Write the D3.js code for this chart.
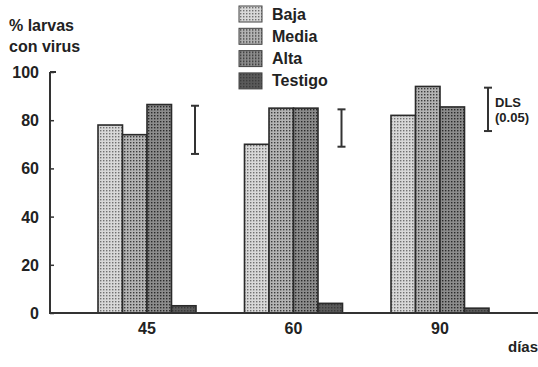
<!DOCTYPE html>
<html>
<head>
<meta charset="utf-8">
<script src="https://cdn.jsdelivr.net/npm/d3@7"></script>
<style>
  body { margin: 0; background: #fff; }
  text { font-family: "Liberation Sans", Arial, sans-serif; font-weight: bold; fill: #222; }
</style>
</head>
<body>
<svg id="chart" width="538" height="367"></svg>
<script>
'use strict';

const days = ["45", "60", "90"];
const series = ["Baja", "Media", "Alta", "Testigo"];
const baja = [78, 70, 82];
const media = [74, 85, 94];
const alta = [86.5, 85, 85.5];
const testigo = [3, 4, 2];
const dlsLow = [66, 69, 75.5];
const dlsHigh = [86, 84.5, 93.5];
const yTicks = [0, 20, 40, 60, 80, 100];

const values = [baja, media, alta, testigo];

var svg = d3.select("#chart");

// dotted screen fills like the printed original
var shades = [
  { bg: "#d8d8d8", dot: "#707070" },
  { bg: "#b4b4b4", dot: "#3c3c3c" },
  { bg: "#8c8c8c", dot: "#2a2a2a" },
  { bg: "#5a5a5a", dot: "#3a3a3a" }
];
var defs = svg.append("defs");
shades.forEach(function(s, i) {
  var p = defs.append("pattern")
    .attr("id", "pat" + i)
    .attr("width", 3).attr("height", 3)
    .attr("patternUnits", "userSpaceOnUse");
  p.append("rect").attr("width", 3).attr("height", 3).attr("fill", s.bg);
  p.append("rect").attr("x", 1).attr("y", 1).attr("width", 1.4).attr("height", 1.4).attr("fill", s.dot);
});

var y = d3.scaleLinear().domain([0, 100]).range([313, 72]);
var x = d3.scalePoint().domain(days).range([147, 440]);
var xs = d3.scaleBand().domain(series).range([-49, 49]);

// bars
series.forEach(function(name, si) {
  svg.append("g").selectAll("rect")
    .data(values[si])
    .enter().append("rect")
      .attr("x", function(d, i) { return x(days[i]) + xs(name); })
      .attr("y", function(d) { return y(d); })
      .attr("width", xs.bandwidth())
      .attr("height", function(d) { return y(0) - y(d); })
      .attr("fill", "url(#pat" + si + ")")
      .attr("stroke", "#2a2a2a")
      .attr("stroke-width", 1.6);
});

// y axis
var yAxis = d3.axisRight(y).tickValues(yTicks).tickSize(4).tickFormat("");
var ga = svg.append("g").attr("transform", "translate(50,0)").call(yAxis);
ga.select(".domain").remove();
ga.selectAll("line").attr("stroke", "#333").attr("stroke-width", 1.5);
svg.append("line")
  .attr("x1", 50).attr("x2", 50).attr("y1", y(100)).attr("y2", y(0) + 1)
  .attr("stroke", "#333").attr("stroke-width", 2);
svg.append("line")
  .attr("x1", 50).attr("x2", 56).attr("y1", y(100)).attr("y2", y(100))
  .attr("stroke", "#333").attr("stroke-width", 2);
svg.append("line")
  .attr("x1", 49).attr("x2", 538).attr("y1", y(0)).attr("y2", y(0))
  .attr("stroke", "#333").attr("stroke-width", 2);

svg.append("g").selectAll("text")
  .data(yTicks)
  .enter().append("text")
    .attr("x", 39)
    .attr("y", function(d) { return y(d) + 6; })
    .attr("text-anchor", "end")
    .attr("font-size", 16)
    .text(function(d) { return d; });

// x labels
svg.append("g").selectAll("text")
  .data(days)
  .enter().append("text")
    .attr("x", function(d) { return x(d); })
    .attr("y", 334)
    .attr("text-anchor", "middle")
    .attr("font-size", 16)
    .text(function(d) { return d; });

svg.append("text").attr("x", 538).attr("y", 352).attr("text-anchor", "end")
  .attr("font-size", 15).text("días");

// axis title
svg.append("text").attr("x", 9).attr("y", 31).attr("font-size", 16).text("% larvas");
svg.append("text").attr("x", 9).attr("y", 52).attr("font-size", 16).text("con virus");

// DLS bars
var ex = function(i) { return x(days[i]) + 48; };
var eb = svg.append("g").attr("stroke", "#333").attr("stroke-width", 2);
dlsLow.forEach(function(lo, i) {
  eb.append("line").attr("x1", ex(i)).attr("x2", ex(i)).attr("y1", y(dlsHigh[i])).attr("y2", y(lo));
  eb.append("line").attr("x1", ex(i) - 4).attr("x2", ex(i) + 4).attr("y1", y(dlsHigh[i])).attr("y2", y(dlsHigh[i]));
  eb.append("line").attr("x1", ex(i) - 4).attr("x2", ex(i) + 4).attr("y1", y(lo)).attr("y2", y(lo));
});
svg.append("text").attr("x", 495).attr("y", 107).attr("font-size", 13).text("DLS");
svg.append("text").attr("x", 495).attr("y", 122).attr("font-size", 13).text("(0.05)");

// legend
var lg = svg.append("g").selectAll("g")
  .data(series)
  .enter().append("g")
    .attr("transform", function(d, i) { return "translate(239," + (6 + i * 22.3) + ")"; });
lg.append("rect")
  .attr("width", 23).attr("height", 16)
  .attr("fill", function(d, i) { return "url(#pat" + i + ")"; })
  .attr("stroke", "#444").attr("stroke-width", 1);
lg.append("text")
  .attr("x", 33).attr("y", 13.5)
  .attr("font-size", 16)
  .text(function(d) { return d; });
</script>
</body>
</html>
